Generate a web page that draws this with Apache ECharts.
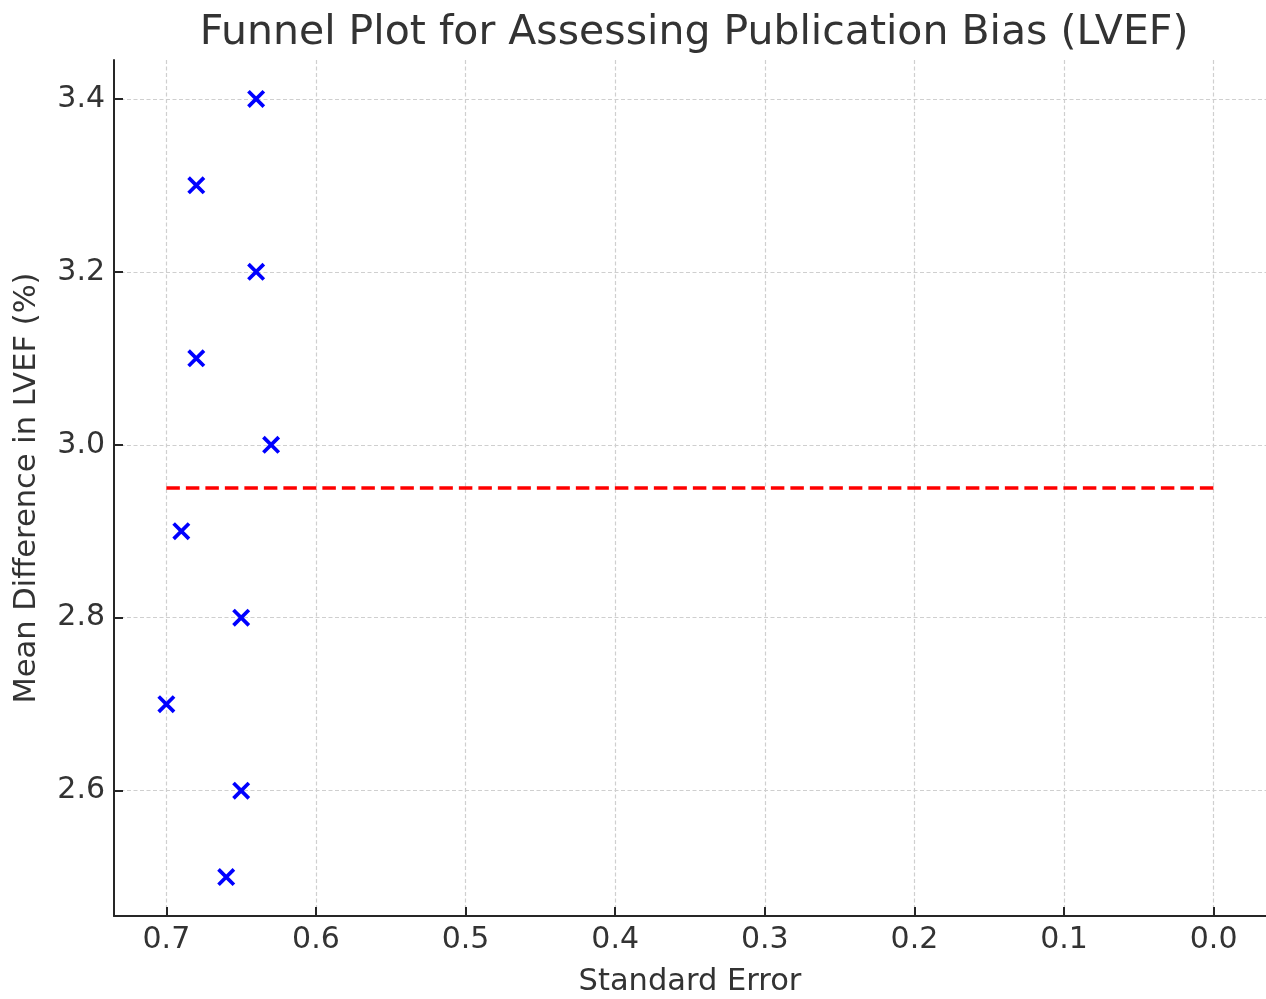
<!DOCTYPE html>
<html>
<head>
<meta charset="utf-8">
<script src="https://cdn.jsdelivr.net/npm/echarts@6/dist/echarts.min.js"></script>
<style>
html,body{margin:0;padding:0;background:#fff;}
#chart{width:1266px;height:999px;}
</style>
</head>
<body>
<div id="chart"></div>
<script>
const standardErrors = [0.64, 0.68, 0.64, 0.68, 0.63, 0.69, 0.65, 0.70, 0.65, 0.66];
const meanDifferences = [3.4, 3.3, 3.2, 3.1, 3.0, 2.9, 2.8, 2.7, 2.6, 2.5];
const pooledMean = 2.95;
const pooledLineSE = [0.70, 0.0];
const xTicks = [0.0, 0.1, 0.2, 0.3, 0.4, 0.5, 0.6, 0.7];
const yTicks = [2.6, 2.8, 3.0, 3.2, 3.4];

const points = standardErrors.map((se, i) => [se, meanDifferences[i]]);
const meanLine = pooledLineSE.map(se => [se, pooledMean]);

const xMark = 'path://M0.85,-0.85L10.85,9.15L9.15,10.85L-0.85,0.85ZM9.15,-0.85L10.85,0.85L0.85,10.85L-0.85,9.15Z';
const textColor = '#333333';
const font = 'DejaVu Sans';

const chart = echarts.init(document.getElementById('chart'), null, {renderer: 'canvas'});
chart.setOption({
  animation: false,
  backgroundColor: '#ffffff',
  title: {
    text: 'Funnel Plot for Assessing Publication Bias (LVEF)',
    left: 689, textAlign: 'center', top: 8,
    textStyle: {fontFamily: font, fontSize: 41, fontWeight: 'normal', color: textColor}
  },
  grid: {left: 114, right: 0, top: 60, bottom: 83, containLabel: false, outerBoundsMode: 'none'},
  xAxis: {
    type: 'value', inverse: true, min: -0.035, max: 0.735,
    name: 'Standard Error', nameLocation: 'middle', nameGap: 51,
    nameTextStyle: {fontFamily: font, fontSize: 30.5, color: textColor},
    axisLine: {show: true, onZero: false, lineStyle: {color: '#262626', width: 2}},
    axisTick: {show: true, inside: true, length: 9, customValues: xTicks, lineStyle: {color: '#262626', width: 2}},
    axisLabel: {customValues: xTicks, fontFamily: font, fontSize: 30, color: textColor, margin: 9,
      formatter: v => Number(v).toFixed(1)},
    splitLine: {show: true, lineStyle: {color: '#cfcfcf', width: 1.2, type: [4, 2.5]}}
  },
  yAxis: {
    type: 'value', min: 2.455, max: 3.445,
    name: 'Mean Difference in LVEF (%)', nameLocation: 'middle', nameGap: 71,
    nameTextStyle: {fontFamily: font, fontSize: 30.5, color: textColor},
    axisLine: {show: true, onZero: false, lineStyle: {color: '#262626', width: 2}},
    axisTick: {show: true, inside: true, length: 9, customValues: yTicks, lineStyle: {color: '#262626', width: 2}},
    axisLabel: {customValues: yTicks, fontFamily: font, fontSize: 30, color: textColor, margin: 9,
      formatter: v => Number(v).toFixed(1)},
    splitLine: {show: true, lineStyle: {color: '#cfcfcf', width: 1.2, type: [4, 2.5]}}
  },
  series: [
    {
      type: 'line', data: meanLine, symbol: 'none', silent: true, z: 3,
      lineStyle: {color: '#ff0000', width: 3.5, type: [13.5, 6]}
    },
    {
      type: 'scatter', data: points, symbol: xMark, symbolSize: 18, z: 4,
      itemStyle: {color: '#0000ff', opacity: 1}
    }
  ]
});
</script>
</body>
</html>
